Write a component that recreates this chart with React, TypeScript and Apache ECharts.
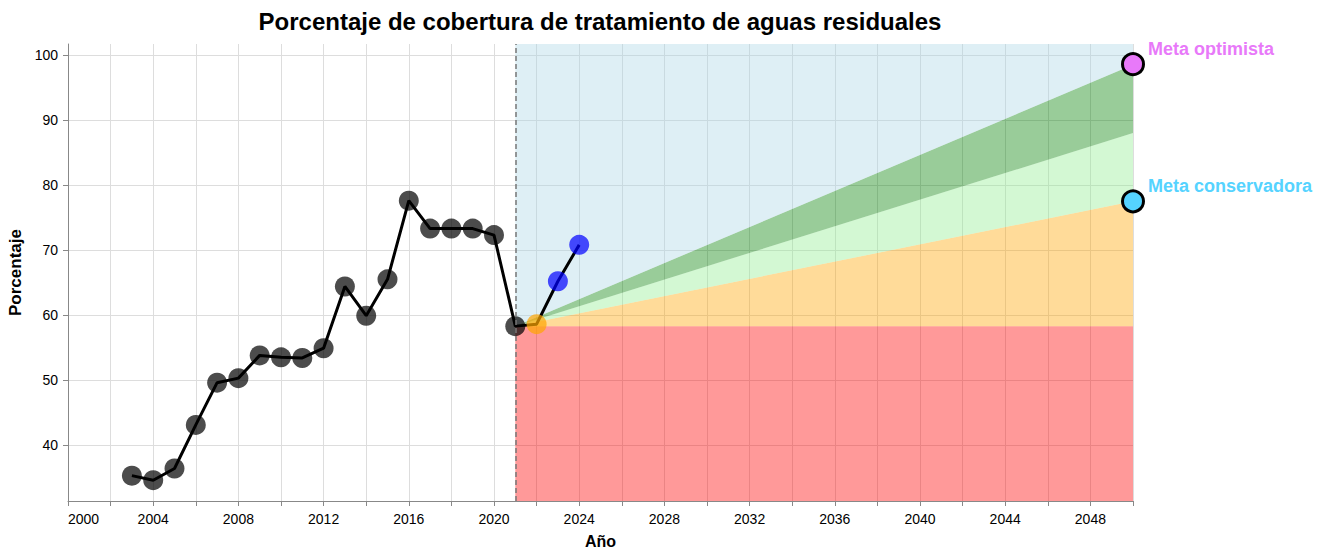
import React, { useEffect, useRef } from "react";
import * as echarts from "echarts";

// ---- Data ----
const historicYears = [2003, 2004, 2005, 2006, 2007, 2008, 2009, 2010, 2011, 2012, 2013, 2014, 2015, 2016, 2017, 2018, 2019, 2020, 2021];
const historicValues = [35.3, 34.6, 36.4, 43.1, 49.6, 50.3, 53.8, 53.5, 53.4, 54.9, 64.4, 59.9, 65.5, 77.6, 73.3, 73.3, 73.3, 72.3, 58.3];
const currentYears = [2022];
const currentValues = [58.6];
const recentYears = [2023, 2024];
const recentValues = [65.2, 70.8];

const projectionStartYear = 2021;
const targetYear = 2050;
const baseValue = 58.3;
const conservativeTarget = 77.5;
const middleTarget = 88;
const optimisticTarget = 98.5;
const targetNames = ["Meta optimista", "Meta conservadora"];
const targetValues = [98.6, 77.5];

const xMin = 2000;
const xMax = 2050;
const yMin = 31.4;
const yMax = 101.7;
const yTicks = [40, 50, 60, 70, 80, 90, 100];

// bands: red, orange, light green, green, light blue
const bandBottomStart = [yMin, baseValue, baseValue, baseValue, baseValue];
const bandBottomEnd = [yMin, baseValue, conservativeTarget, middleTarget, optimisticTarget];
const bandTopStart = [baseValue, baseValue, baseValue, baseValue, yMax];
const bandTopEnd = [baseValue, conservativeTarget, middleTarget, optimisticTarget, yMax];

const FONT = "'Liberation Sans', Arial, Helvetica, sans-serif";
const BAND_COLORS = ["#ff0000", "#ffa500", "#90ee90", "#008000", "#add8e6"];
const TARGET_COLORS = ["#e879f9", "#55d3ff"];

export default function App() {
  const ref = useRef<HTMLDivElement>(null);

  useEffect(() => {
    if (!ref.current) return;
    const chart = echarts.init(ref.current, undefined, { renderer: "svg" });

    const allYears = [...historicYears, ...currentYears, ...recentYears];
    const allValues = [...historicValues, ...currentValues, ...recentValues];
    const lineData = allYears.map((y, i) => [y, allValues[i]]);

    const bandData = bandBottomStart.map((_, i) => [
      projectionStartYear,
      bandBottomStart[i],
      bandTopStart[i],
      targetYear,
      bandBottomEnd[i],
      bandTopEnd[i],
    ]);

    const option: any = {
      animation: false,
      textStyle: { fontFamily: FONT },
      grid: { left: 68, right: 193, top: 44, bottom: 47, containLabel: false, outerBoundsMode: "none" },
      graphic: [
        {
          type: "text",
          x: 600,
          y: 21,
          style: {
            text: "Porcentaje de cobertura de tratamiento de aguas residuales",
            fontFamily: FONT,
            fontSize: 24,
            fontWeight: "bold",
            fill: "#000",
            textAlign: "center",
            textVerticalAlign: "middle",
          },
        },
      ],
      xAxis: {
        type: "value",
        min: xMin,
        max: xMax,
        interval: 2,
        name: "Año",
        nameLocation: "middle",
        nameGap: 32,
        nameTextStyle: { fontFamily: FONT, fontSize: 16, fontWeight: "bold", color: "#000" },
        axisLine: { lineStyle: { color: "#888", width: 1 } },
        axisTick: { show: true, length: 5, lineStyle: { color: "#888" } },
        axisLabel: {
          margin: 11,
          fontSize: 14,
          fontFamily: FONT,
          color: "#000",
          alignMinLabel: "left",
          formatter: (v: number) => (v % 4 === 0 && v !== xMax ? String(v) : ""),
        },
        splitLine: { show: true, lineStyle: { color: "#ddd", width: 1 } },
      },
      yAxis: {
        type: "value",
        min: yMin,
        max: yMax,
        name: "Porcentaje",
        nameLocation: "middle",
        nameGap: 43,
        nameTextStyle: { fontFamily: FONT, fontSize: 17, fontWeight: "bold", color: "#000" },
        axisLine: { show: true, lineStyle: { color: "#888", width: 1 } },
        axisTick: { show: true, length: 5, lineStyle: { color: "#888" }, customValues: yTicks },
        axisLabel: {
          margin: 10,
          fontSize: 14,
          fontFamily: FONT,
          color: "#000",
          customValues: yTicks,
          formatter: (v: number) => (yTicks.includes(v) ? String(v) : ""),
        },
        splitLine: { show: true, lineStyle: { color: "#ddd", width: 1 } },
      },
      series: [
        {
          name: "Escenarios",
          type: "custom",
          z: 1,
          silent: true,
          clip: true,
          encode: { x: [0, 3], y: [1, 2, 4, 5] },
          data: bandData,
          renderItem: (params: any, api: any) => {
            const x0 = api.value(0);
            const x1 = api.value(3);
            const p1 = api.coord([x0, api.value(1)]);
            const p2 = api.coord([x1, api.value(4)]);
            const p3 = api.coord([x1, api.value(5)]);
            const p4 = api.coord([x0, api.value(2)]);
            return {
              type: "polygon",
              shape: { points: [p1, p2, p3, p4] },
              style: { fill: BAND_COLORS[params.dataIndex], opacity: 0.4 },
            };
          },
        },
        {
          name: "Serie",
          type: "line",
          z: 3,
          symbol: "none",
          silent: true,
          lineStyle: { color: "#000", width: 3 },
          data: lineData,
          markLine: {
            silent: true,
            symbol: ["none", "none"],
            label: { show: false },
            lineStyle: { color: "#777", type: [5, 3], width: 1.5 },
            data: [{ xAxis: projectionStartYear }],
          },
        },
        {
          name: "Histórico",
          type: "scatter",
          z: 4,
          symbolSize: 20,
          itemStyle: { color: "#000", opacity: 0.7 },
          data: historicYears.map((y, i) => [y, historicValues[i]]),
        },
        {
          name: "Actual",
          type: "scatter",
          z: 4,
          symbolSize: 20,
          itemStyle: { color: "#ffa500", opacity: 0.7 },
          data: currentYears.map((y, i) => [y, currentValues[i]]),
        },
        {
          name: "Reciente",
          type: "scatter",
          z: 4,
          symbolSize: 20,
          itemStyle: { color: "#0000ff", opacity: 0.7 },
          data: recentYears.map((y, i) => [y, recentValues[i]]),
        },
        {
          name: "Metas",
          type: "scatter",
          z: 5,
          clip: false,
          symbolSize: 21,
          data: targetNames.map((n, i) => ({
            name: n,
            value: [targetYear, targetValues[i]],
            itemStyle: { color: TARGET_COLORS[i], borderColor: "#000", borderWidth: 3, opacity: 1 },
            label: { color: TARGET_COLORS[i] },
          })),
          label: {
            show: true,
            formatter: "{b}",
            position: "right",
            distance: 3,
            offset: [0, -15],
            fontFamily: FONT,
            fontSize: 18,
            fontWeight: "bold",
          },
        },
      ],
    };

    chart.setOption(option);
    return () => chart.dispose();
  }, []);

  return (
    <div
      ref={ref}
      style={{ position: "absolute", left: 0, top: 0, width: 1326, height: 548 }}
    />
  );
}
